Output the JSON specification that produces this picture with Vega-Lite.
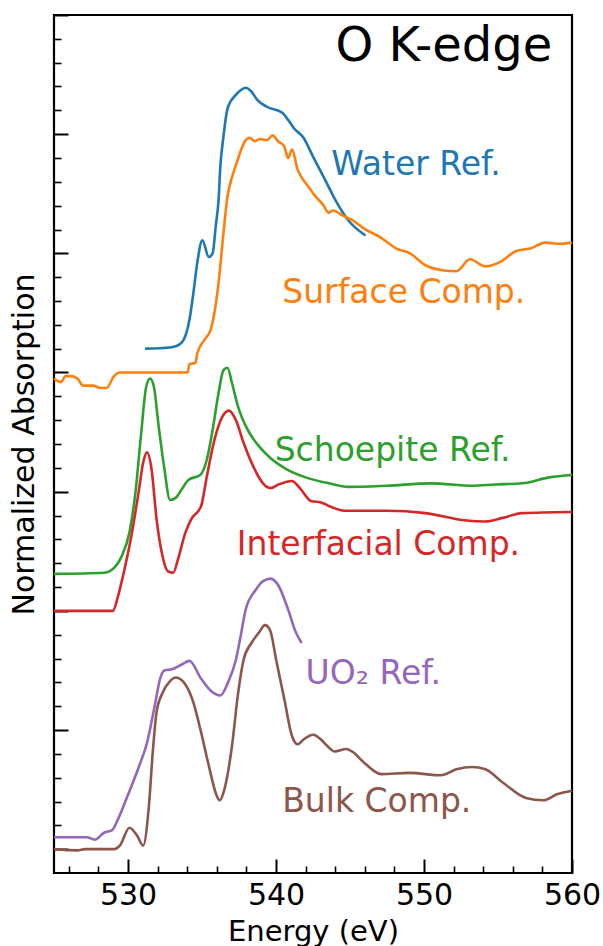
{
  "$schema": "https://vega.github.io/schema/vega-lite/v6.json",
  "width": 518,
  "height": 858,
  "autosize": {"type": "none"},
  "padding": {"left": 54, "top": 15, "right": 31, "bottom": 73},
  "config": {
    "view": {"stroke": "black", "strokeWidth": 2.2},
    "font": "DejaVu Sans",
    "axis": {"grid": false, "domain": false, "tickColor": "black", "labelColor": "black", "titleColor": "black", "labelFont": "DejaVu Sans", "titleFont": "DejaVu Sans", "titleFontWeight": "normal"}
  },
  "datasets": {
    "curves": [
      {"s": "Water", "E": 531.15, "v": 4.20}, {"s": "Water", "E": 532.84, "v": 4.21}, {"s": "Water", "E": 533.2, "v": 4.22}, {"s": "Water", "E": 533.63, "v": 4.25}, {"s": "Water", "E": 534.15, "v": 4.44}, {"s": "Water", "E": 534.42, "v": 4.67}, {"s": "Water", "E": 534.68, "v": 4.92}, {"s": "Water", "E": 535.02, "v": 5.11}, {"s": "Water", "E": 535.46, "v": 4.97}, {"s": "Water", "E": 535.72, "v": 5.00}, {"s": "Water", "E": 535.93, "v": 5.23}, {"s": "Water", "E": 536.12, "v": 5.45}, {"s": "Water", "E": 536.24, "v": 5.73}, {"s": "Water", "E": 536.45, "v": 5.98}, {"s": "Water", "E": 536.59, "v": 6.12}, {"s": "Water", "E": 536.76, "v": 6.23}, {"s": "Water", "E": 537.29, "v": 6.33}, {"s": "Water", "E": 537.97, "v": 6.39}, {"s": "Water", "E": 538.32, "v": 6.36}, {"s": "Water", "E": 538.72, "v": 6.29}, {"s": "Water", "E": 539.38, "v": 6.23}, {"s": "Water", "E": 540.42, "v": 6.18}, {"s": "Water", "E": 540.82, "v": 6.12}, {"s": "Water", "E": 541.21, "v": 6.05}, {"s": "Water", "E": 541.86, "v": 5.97}, {"s": "Water", "E": 542.51, "v": 5.81}, {"s": "Water", "E": 543.30, "v": 5.62}, {"s": "Water", "E": 544.09, "v": 5.43}, {"s": "Water", "E": 544.87, "v": 5.28}, {"s": "Water", "E": 546.05, "v": 5.15},

      {"s": "Surface", "E": 525.0, "v": 3.95}, {"s": "Surface", "E": 525.47, "v": 3.92}, {"s": "Surface", "E": 525.79, "v": 3.97}, {"s": "Surface", "E": 526.18, "v": 3.97}, {"s": "Surface", "E": 526.58, "v": 3.95}, {"s": "Surface", "E": 526.97, "v": 3.89}, {"s": "Surface", "E": 527.62, "v": 3.89}, {"s": "Surface", "E": 528.14, "v": 3.87}, {"s": "Surface", "E": 528.54, "v": 3.87}, {"s": "Surface", "E": 529.06, "v": 3.97}, {"s": "Surface", "E": 529.45, "v": 4.00}, {"s": "Surface", "E": 534.03, "v": 4.00}, {"s": "Surface", "E": 534.15, "v": 4.07}, {"s": "Surface", "E": 534.55, "v": 4.08}, {"s": "Surface", "E": 534.68, "v": 4.16}, {"s": "Surface", "E": 535.20, "v": 4.28}, {"s": "Surface", "E": 535.59, "v": 4.36}, {"s": "Surface", "E": 535.85, "v": 4.51}, {"s": "Surface", "E": 536.12, "v": 4.75}, {"s": "Surface", "E": 536.45, "v": 5.17}, {"s": "Surface", "E": 536.69, "v": 5.45}, {"s": "Surface", "E": 537.03, "v": 5.64}, {"s": "Surface", "E": 537.29, "v": 5.74}, {"s": "Surface", "E": 537.95, "v": 5.95}, {"s": "Surface", "E": 538.20, "v": 5.97}, {"s": "Surface", "E": 538.59, "v": 5.94}, {"s": "Surface", "E": 538.86, "v": 5.96}, {"s": "Surface", "E": 539.38, "v": 5.95}, {"s": "Surface", "E": 539.77, "v": 5.99}, {"s": "Surface", "E": 540.14, "v": 5.94}, {"s": "Surface", "E": 540.55, "v": 5.90}, {"s": "Surface", "E": 540.82, "v": 5.80}, {"s": "Surface", "E": 541.08, "v": 5.87}, {"s": "Surface", "E": 541.47, "v": 5.70}, {"s": "Surface", "E": 542.00, "v": 5.59}, {"s": "Surface", "E": 542.24, "v": 5.55}, {"s": "Surface", "E": 542.65, "v": 5.48}, {"s": "Surface", "E": 543.17, "v": 5.41}, {"s": "Surface", "E": 543.57, "v": 5.34}, {"s": "Surface", "E": 543.82, "v": 5.36}, {"s": "Surface", "E": 544.61, "v": 5.31}, {"s": "Surface", "E": 545.13, "v": 5.28}, {"s": "Surface", "E": 545.92, "v": 5.21}, {"s": "Surface", "E": 547.10, "v": 5.13}, {"s": "Surface", "E": 548.14, "v": 5.04}, {"s": "Surface", "E": 549.05, "v": 5.00}, {"s": "Surface", "E": 550.10, "v": 4.90}, {"s": "Surface", "E": 551.14, "v": 4.86}, {"s": "Surface", "E": 552.19, "v": 4.85}, {"s": "Surface", "E": 553.11, "v": 4.95}, {"s": "Surface", "E": 554.15, "v": 4.89}, {"s": "Surface", "E": 555.19, "v": 4.93}, {"s": "Surface", "E": 556.24, "v": 5.02}, {"s": "Surface", "E": 557.16, "v": 5.04}, {"s": "Surface", "E": 558.20, "v": 5.09}, {"s": "Surface", "E": 559.12, "v": 5.08}, {"s": "Surface", "E": 560.0, "v": 5.09},

      {"s": "Schoepite", "E": 525.0, "v": 2.31}, {"s": "Schoepite", "E": 528.41, "v": 2.32}, {"s": "Schoepite", "E": 529.06, "v": 2.36}, {"s": "Schoepite", "E": 529.58, "v": 2.46}, {"s": "Schoepite", "E": 530.10, "v": 2.66}, {"s": "Schoepite", "E": 530.50, "v": 2.99}, {"s": "Schoepite", "E": 530.89, "v": 3.49}, {"s": "Schoepite", "E": 531.23, "v": 3.88}, {"s": "Schoepite", "E": 531.49, "v": 3.95}, {"s": "Schoepite", "E": 531.75, "v": 3.88}, {"s": "Schoepite", "E": 532.07, "v": 3.55}, {"s": "Schoepite", "E": 532.46, "v": 3.19}, {"s": "Schoepite", "E": 532.84, "v": 2.93}, {"s": "Schoepite", "E": 533.24, "v": 2.95}, {"s": "Schoepite", "E": 533.63, "v": 3.02}, {"s": "Schoepite", "E": 534.10, "v": 3.10}, {"s": "Schoepite", "E": 534.88, "v": 3.14}, {"s": "Schoepite", "E": 535.33, "v": 3.27}, {"s": "Schoepite", "E": 535.72, "v": 3.52}, {"s": "Schoepite", "E": 536.12, "v": 3.83}, {"s": "Schoepite", "E": 536.45, "v": 4.02}, {"s": "Schoepite", "E": 536.72, "v": 4.04}, {"s": "Schoepite", "E": 537.03, "v": 3.91}, {"s": "Schoepite", "E": 537.42, "v": 3.72}, {"s": "Schoepite", "E": 538.08, "v": 3.52}, {"s": "Schoepite", "E": 538.86, "v": 3.38}, {"s": "Schoepite", "E": 539.64, "v": 3.28}, {"s": "Schoepite", "E": 540.69, "v": 3.19}, {"s": "Schoepite", "E": 542.00, "v": 3.12}, {"s": "Schoepite", "E": 543.57, "v": 3.07}, {"s": "Schoepite", "E": 544.87, "v": 3.04}, {"s": "Schoepite", "E": 547.48, "v": 3.05}, {"s": "Schoepite", "E": 550.49, "v": 3.07}, {"s": "Schoepite", "E": 553.23, "v": 3.05}, {"s": "Schoepite", "E": 554.80, "v": 3.06}, {"s": "Schoepite", "E": 556.63, "v": 3.07}, {"s": "Schoepite", "E": 558.46, "v": 3.12}, {"s": "Schoepite", "E": 560.0, "v": 3.14},

      {"s": "Interfacial", "E": 525.0, "v": 2.00}, {"s": "Interfacial", "E": 528.98, "v": 2.00}, {"s": "Interfacial", "E": 529.32, "v": 2.12}, {"s": "Interfacial", "E": 529.71, "v": 2.32}, {"s": "Interfacial", "E": 530.23, "v": 2.63}, {"s": "Interfacial", "E": 530.71, "v": 2.99}, {"s": "Interfacial", "E": 531.02, "v": 3.24}, {"s": "Interfacial", "E": 531.28, "v": 3.33}, {"s": "Interfacial", "E": 531.59, "v": 3.19}, {"s": "Interfacial", "E": 531.93, "v": 2.77}, {"s": "Interfacial", "E": 532.33, "v": 2.46}, {"s": "Interfacial", "E": 532.71, "v": 2.33}, {"s": "Interfacial", "E": 533.06, "v": 2.32}, {"s": "Interfacial", "E": 533.37, "v": 2.43}, {"s": "Interfacial", "E": 533.89, "v": 2.66}, {"s": "Interfacial", "E": 534.28, "v": 2.77}, {"s": "Interfacial", "E": 534.94, "v": 2.88}, {"s": "Interfacial", "E": 535.33, "v": 3.13}, {"s": "Interfacial", "E": 535.85, "v": 3.44}, {"s": "Interfacial", "E": 536.38, "v": 3.63}, {"s": "Interfacial", "E": 536.82, "v": 3.68}, {"s": "Interfacial", "E": 537.29, "v": 3.60}, {"s": "Interfacial", "E": 537.81, "v": 3.41}, {"s": "Interfacial", "E": 538.47, "v": 3.21}, {"s": "Interfacial", "E": 539.12, "v": 3.07}, {"s": "Interfacial", "E": 539.64, "v": 3.03}, {"s": "Interfacial", "E": 540.17, "v": 3.06}, {"s": "Interfacial", "E": 541.08, "v": 3.09}, {"s": "Interfacial", "E": 541.61, "v": 3.03}, {"s": "Interfacial", "E": 542.39, "v": 2.92}, {"s": "Interfacial", "E": 543.04, "v": 2.91}, {"s": "Interfacial", "E": 543.57, "v": 2.88}, {"s": "Interfacial", "E": 544.61, "v": 2.84}, {"s": "Interfacial", "E": 546.18, "v": 2.84}, {"s": "Interfacial", "E": 547.48, "v": 2.84}, {"s": "Interfacial", "E": 550.10, "v": 2.82}, {"s": "Interfacial", "E": 552.71, "v": 2.76}, {"s": "Interfacial", "E": 554.15, "v": 2.75}, {"s": "Interfacial", "E": 555.32, "v": 2.78}, {"s": "Interfacial", "E": 556.63, "v": 2.82}, {"s": "Interfacial", "E": 560.0, "v": 2.83},

      {"s": "UO2", "E": 525.0, "v": 0.10}, {"s": "UO2", "E": 527.23, "v": 0.10}, {"s": "UO2", "E": 527.75, "v": 0.08}, {"s": "UO2", "E": 528.41, "v": 0.14}, {"s": "UO2", "E": 528.93, "v": 0.16}, {"s": "UO2", "E": 529.32, "v": 0.25}, {"s": "UO2", "E": 529.98, "v": 0.45}, {"s": "UO2", "E": 530.76, "v": 0.70}, {"s": "UO2", "E": 531.28, "v": 0.89}, {"s": "UO2", "E": 531.80, "v": 1.20}, {"s": "UO2", "E": 532.19, "v": 1.44}, {"s": "UO2", "E": 532.46, "v": 1.50}, {"s": "UO2", "E": 532.98, "v": 1.51}, {"s": "UO2", "E": 533.63, "v": 1.55}, {"s": "UO2", "E": 534.15, "v": 1.58}, {"s": "UO2", "E": 534.94, "v": 1.43}, {"s": "UO2", "E": 535.59, "v": 1.33}, {"s": "UO2", "E": 536.24, "v": 1.29}, {"s": "UO2", "E": 536.76, "v": 1.40}, {"s": "UO2", "E": 537.29, "v": 1.59}, {"s": "UO2", "E": 537.57, "v": 1.76}, {"s": "UO2", "E": 537.95, "v": 2.01}, {"s": "UO2", "E": 538.60, "v": 2.17}, {"s": "UO2", "E": 539.13, "v": 2.25}, {"s": "UO2", "E": 539.64, "v": 2.27}, {"s": "UO2", "E": 540.17, "v": 2.21}, {"s": "UO2", "E": 540.82, "v": 2.01}, {"s": "UO2", "E": 541.34, "v": 1.82}, {"s": "UO2", "E": 541.73, "v": 1.73},

      {"s": "Bulk", "E": 525.0, "v": 0.00}, {"s": "Bulk", "E": 526.58, "v": -0.01}, {"s": "Bulk", "E": 527.10, "v": 0.00}, {"s": "Bulk", "E": 529.06, "v": 0.00}, {"s": "Bulk", "E": 529.45, "v": 0.03}, {"s": "Bulk", "E": 530.10, "v": 0.18}, {"s": "Bulk", "E": 530.63, "v": 0.11}, {"s": "Bulk", "E": 531.02, "v": 0.03}, {"s": "Bulk", "E": 531.41, "v": 0.36}, {"s": "Bulk", "E": 531.67, "v": 0.81}, {"s": "Bulk", "E": 531.93, "v": 1.15}, {"s": "Bulk", "E": 532.33, "v": 1.31}, {"s": "Bulk", "E": 532.84, "v": 1.41}, {"s": "Bulk", "E": 533.24, "v": 1.44}, {"s": "Bulk", "E": 533.89, "v": 1.38}, {"s": "Bulk", "E": 534.42, "v": 1.23}, {"s": "Bulk", "E": 534.94, "v": 0.98}, {"s": "Bulk", "E": 535.46, "v": 0.70}, {"s": "Bulk", "E": 535.99, "v": 0.45}, {"s": "Bulk", "E": 536.20, "v": 0.41}, {"s": "Bulk", "E": 536.51, "v": 0.50}, {"s": "Bulk", "E": 537.03, "v": 0.87}, {"s": "Bulk", "E": 537.42, "v": 1.29}, {"s": "Bulk", "E": 537.81, "v": 1.59}, {"s": "Bulk", "E": 538.34, "v": 1.73}, {"s": "Bulk", "E": 538.86, "v": 1.82}, {"s": "Bulk", "E": 539.25, "v": 1.88}, {"s": "Bulk", "E": 539.59, "v": 1.84}, {"s": "Bulk", "E": 540.04, "v": 1.57}, {"s": "Bulk", "E": 540.56, "v": 1.26}, {"s": "Bulk", "E": 541.08, "v": 0.95}, {"s": "Bulk", "E": 541.47, "v": 0.88}, {"s": "Bulk", "E": 541.86, "v": 0.92}, {"s": "Bulk", "E": 542.52, "v": 0.96}, {"s": "Bulk", "E": 543.04, "v": 0.92}, {"s": "Bulk", "E": 543.43, "v": 0.87}, {"s": "Bulk", "E": 543.96, "v": 0.82}, {"s": "Bulk", "E": 544.74, "v": 0.84}, {"s": "Bulk", "E": 545.13, "v": 0.82}, {"s": "Bulk", "E": 545.92, "v": 0.73}, {"s": "Bulk", "E": 547.10, "v": 0.63}, {"s": "Bulk", "E": 549.05, "v": 0.64}, {"s": "Bulk", "E": 551.14, "v": 0.62}, {"s": "Bulk", "E": 552.19, "v": 0.67}, {"s": "Bulk", "E": 553.23, "v": 0.69}, {"s": "Bulk", "E": 554.15, "v": 0.67}, {"s": "Bulk", "E": 555.32, "v": 0.56}, {"s": "Bulk", "E": 556.89, "v": 0.43}, {"s": "Bulk", "E": 558.07, "v": 0.41}, {"s": "Bulk", "E": 558.98, "v": 0.46}, {"s": "Bulk", "E": 560.0, "v": 0.49}
    ],
    "labels": [
      {"s": "Water", "t": "Water Ref.", "E": 543.73, "v": 5.66},
      {"s": "Surface", "t": "Surface Comp.", "E": 540.42, "v": 4.58},
      {"s": "Schoepite", "t": "Schoepite Ref.", "E": 539.91, "v": 3.26},
      {"s": "Interfacial", "t": "Interfacial Comp.", "E": 537.35, "v": 2.47},
      {"s": "UO2", "t": "UO₂ Ref.", "E": 542.0, "v": 1.39},
      {"s": "Bulk", "t": "Bulk Comp.", "E": 540.42, "v": 0.31}
    ],
    "title": [
      {"t": "O K-edge", "E": 558.67, "v": 6.61}
    ]
  },
  "layer": [
    {
      "data": {"name": "curves"},
      "mark": {"type": "line", "strokeWidth": 2.6, "interpolate": "monotone"},
      "encoding": {
        "x": {"field": "E", "type": "quantitative", "scale": {"domain": [525, 560], "nice": false, "zero": false},
              "axis": {"orient": "bottom", "values": [530, 540, 550, 560], "tickSize": -14, "tickWidth": 2, "labelFontSize": 30, "labelPadding": 21, "labelFlush": false, "title": "Energy (eV)", "titleFontSize": 29, "titlePadding": 7}},
        "y": {"field": "v", "type": "quantitative", "scale": {"domain": [-0.2, 7], "nice": false, "zero": false},
              "axis": {"orient": "left", "values": [0, 1, 2, 3, 4, 5, 6, 7], "tickSize": -14, "tickWidth": 2, "labels": false, "title": "Normalized Absorption", "titleFontSize": 30, "titlePadding": 14}},
        "color": {"field": "s", "type": "nominal", "scale": {"domain": ["Water", "Surface", "Schoepite", "Interfacial", "UO2", "Bulk"], "range": ["#1f77b4", "#ff7f0e", "#2ca02c", "#d62728", "#9467bd", "#8c564b"]}, "legend": null}
      }
    },
    {
      "data": {"name": "curves"},
      "mark": {"type": "line", "opacity": 0},
      "encoding": {
        "x": {"field": "E", "type": "quantitative", "scale": {"domain": [525, 560], "nice": false, "zero": false},
              "axis": {"orient": "bottom", "values": [526, 528, 532, 534, 536, 538, 542, 544, 546, 548, 552, 554, 556, 558], "tickSize": -7, "tickWidth": 1.6, "labels": false, "title": null}},
        "y": {"field": "v", "type": "quantitative", "scale": {"domain": [-0.2, 7], "nice": false, "zero": false},
              "axis": {"orient": "left", "values": [0.2, 0.4, 0.6, 0.8, 1.2, 1.4, 1.6, 1.8, 2.2, 2.4, 2.6, 2.8, 3.2, 3.4, 3.6, 3.8, 4.2, 4.4, 4.6, 4.8, 5.2, 5.4, 5.6, 5.8, 6.2, 6.4, 6.6, 6.8], "tickSize": -7, "tickWidth": 1.6, "labels": false, "title": null}},
        "detail": {"field": "s"}
      }
    },
    {
      "data": {"name": "labels"},
      "mark": {"type": "text", "fontSize": 33, "align": "left", "baseline": "alphabetic", "font": "DejaVu Sans"},
      "encoding": {
        "x": {"field": "E", "type": "quantitative", "axis": null},
        "y": {"field": "v", "type": "quantitative", "axis": null},
        "text": {"field": "t"},
        "color": {"field": "s", "type": "nominal", "legend": null}
      }
    },
    {
      "data": {"name": "title"},
      "mark": {"type": "text", "fontSize": 48, "align": "right", "baseline": "alphabetic", "color": "black", "font": "DejaVu Sans"},
      "encoding": {
        "x": {"field": "E", "type": "quantitative", "axis": null},
        "y": {"field": "v", "type": "quantitative", "axis": null},
        "text": {"field": "t"}
      }
    }
  ],
  "resolve": {"axis": {"x": "independent", "y": "independent"}}
}
